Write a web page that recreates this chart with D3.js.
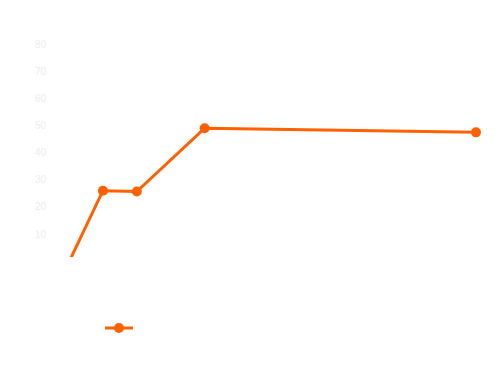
<!DOCTYPE html>
<html><head><meta charset="utf-8">
<script src="https://cdn.jsdelivr.net/npm/d3@7"></script>
<style>body{margin:0;background:#fff}svg{display:block}</style>
</head><body>
<script>
const xValues = [0, 1, 2, 4, 12];
const yValues = [0, 26.3, 26.0, 49.3, 47.8];
const yTicks = [10, 20, 30, 40, 50, 60, 70, 80];
const seriesName = "";

const W = 501, H = 376;
const svg = d3.select("body").append("svg").attr("width", W).attr("height", H);
const x = d3.scaleLinear().domain([0, 12]).range([69, 476]);
const y = d3.scaleLinear().domain([0, 80]).range([262, 45]);

svg.append("defs").append("clipPath").attr("id", "clip")
  .append("rect").attr("x", 40).attr("y", 20).attr("width", 455).attr("height", 237);

const yAxis = d3.axisLeft(y).tickValues(yTicks).tickSize(0).tickPadding(0);
const g = svg.append("g").attr("transform", "translate(46,-1)").call(yAxis);
g.select(".domain").remove();
g.selectAll("text").attr("fill", "#ededed").attr("font-family", "Arial, Liberation Sans, sans-serif").attr("font-size", 10);

const pts = xValues.map((v, i) => [v, yValues[i]]);
const plot = svg.append("g").attr("clip-path", "url(#clip)");
plot.append("path").datum(pts)
  .attr("d", d3.line().x(d => x(d[0])).y(d => y(d[1])))
  .attr("fill", "none").attr("stroke", "#ff6000").attr("stroke-width", 3);
plot.selectAll("circle").data(pts).join("circle")
  .attr("cx", d => x(d[0])).attr("cy", d => y(d[1])).attr("r", 5).attr("fill", "#ff6000");

const lg = svg.append("g");
lg.append("line").attr("x1", 105).attr("x2", 133).attr("y1", 328).attr("y2", 328)
  .attr("stroke", "#ff6000").attr("stroke-width", 3);
lg.append("circle").attr("cx", 119).attr("cy", 328).attr("r", 5).attr("fill", "#ff6000");
lg.append("text").attr("x", 138).attr("y", 332).attr("fill", "#fff").attr("font-size", 11).text(seriesName);
</script>
</body></html>
